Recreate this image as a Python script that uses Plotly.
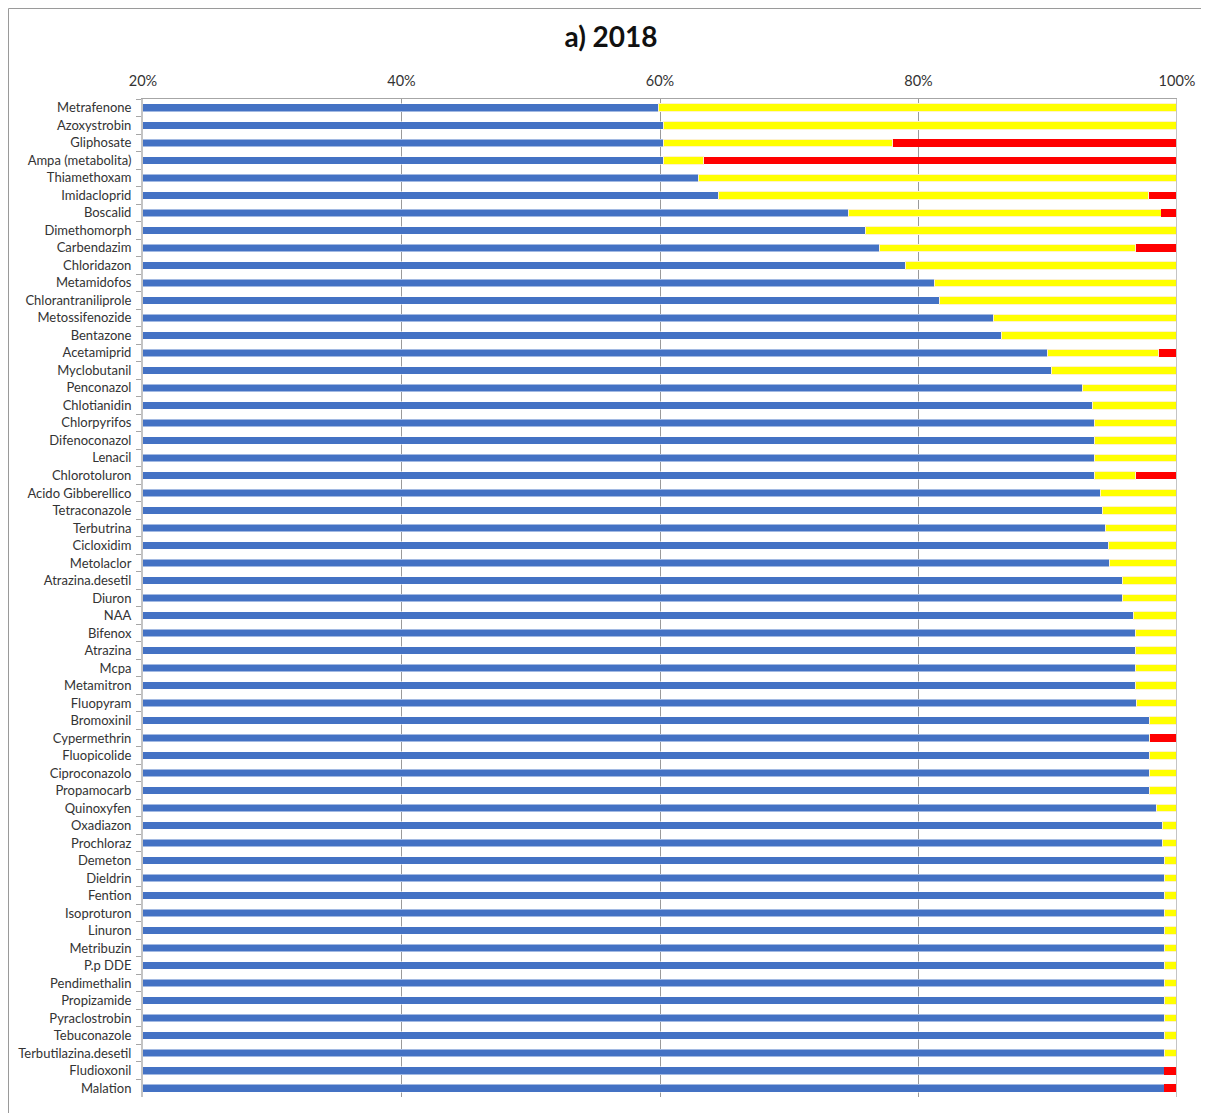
import plotly.graph_objects as go

# Pesticides, top to bottom
sostanze = [
    "Metrafenone", "Azoxystrobin", "Gliphosate", "Ampa (metabolita)", "Thiamethoxam",
    "Imidacloprid", "Boscalid", "Dimethomorph", "Carbendazim", "Chloridazon",
    "Metamidofos", "Chlorantraniliprole", "Metossifenozide", "Bentazone", "Acetamiprid",
    "Myclobutanil", "Penconazol", "Chlotianidin", "Chlorpyrifos", "Difenoconazol",
    "Lenacil", "Chlorotoluron", "Acido Gibberellico", "Tetraconazole", "Terbutrina",
    "Cicloxidim", "Metolaclor", "Atrazina.desetil", "Diuron", "NAA",
    "Bifenox", "Atrazina", "Mcpa", "Metamitron", "Fluopyram",
    "Bromoxinil", "Cypermethrin", "Fluopicolide", "Ciproconazolo", "Propamocarb",
    "Quinoxyfen", "Oxadiazon", "Prochloraz", "Demeton", "Dieldrin",
    "Fention", "Isoproturon", "Linuron", "Metribuzin", "P.p DDE",
    "Pendimethalin", "Propizamide", "Pyraclostrobin", "Tebuconazole", "Terbutilazina.desetil",
    "Fludioxonil", "Malation",
]

# percentage shares (blue / yellow / red)
blu = [
    59.9, 60.3, 60.3, 60.3, 63.0,
    64.5, 74.6, 75.9, 77.0, 79.0,
    81.2, 81.6, 85.8, 86.4, 90.0,
    90.3, 92.7, 93.5, 93.6, 93.6,
    93.6, 93.6, 94.1, 94.2, 94.5,
    94.7, 94.8, 95.8, 95.8, 96.6,
    96.8, 96.8, 96.8, 96.8, 96.9,
    97.9, 97.9, 97.9, 97.9, 97.9,
    98.4, 98.9, 98.9, 99.0, 99.0,
    99.0, 99.0, 99.0, 99.0, 99.0,
    99.0, 99.0, 99.0, 99.0, 99.0,
    99.0, 99.0,
]
giallo = [
    40.1, 39.7, 17.7, 3.1, 37.0,
    33.3, 24.2, 24.1, 19.8, 21.0,
    18.8, 18.4, 14.2, 13.6, 8.6,
    9.7, 7.3, 6.5, 6.4, 6.4,
    6.4, 3.2, 5.9, 5.8, 5.5,
    5.3, 5.2, 4.2, 4.2, 3.4,
    3.2, 3.2, 3.2, 3.2, 3.1,
    2.1, 0.0, 2.1, 2.1, 2.1,
    1.6, 1.1, 1.1, 1.0, 1.0,
    1.0, 1.0, 1.0, 1.0, 1.0,
    1.0, 1.0, 1.0, 1.0, 1.0,
    0.0, 0.0,
]
rosso = [
    0.0, 0.0, 22.0, 36.6, 0.0,
    2.2, 1.2, 0.0, 3.2, 0.0,
    0.0, 0.0, 0.0, 0.0, 1.4,
    0.0, 0.0, 0.0, 0.0, 0.0,
    0.0, 3.2, 0.0, 0.0, 0.0,
    0.0, 0.0, 0.0, 0.0, 0.0,
    0.0, 0.0, 0.0, 0.0, 0.0,
    0.0, 2.1, 0.0, 0.0, 0.0,
    0.0, 0.0, 0.0, 0.0, 0.0,
    0.0, 0.0, 0.0, 0.0, 0.0,
    0.0, 0.0, 0.0, 0.0, 0.0,
    1.0, 1.0,
]

tick_vals = [20, 40, 60, 80, 100]
tick_text = ["20%", "40%", "60%", "80%", "100%"]

fig = go.Figure()
fig.add_trace(go.Bar(y=sostanze, x=blu, orientation="h", name="blu",
                     marker=dict(color="#4472C4", line=dict(color="#ffffff", width=0.5))))
fig.add_trace(go.Bar(y=sostanze, x=giallo, orientation="h", name="giallo",
                     marker=dict(color="#FFFF00", line=dict(color="#FFF2CC", width=1))))
fig.add_trace(go.Bar(y=sostanze, x=rosso, orientation="h", name="rosso",
                     marker=dict(color="#FF0000", line=dict(color="#FF0000", width=0))))

# the page body adds an 8px offset, so margins are shifted by that amount
W, H = 1209, 1113
ml, mr, mt, mb = 135, 40, 91, 24
pw, ph = W - ml - mr, H - mt - mb

fig.update_layout(
    width=W, height=H,
    barmode="stack", bargap=0.57,
    showlegend=False,
    plot_bgcolor="white", paper_bgcolor="white",
    margin=dict(l=ml, r=mr, t=mt, b=mb, autoexpand=False),
    font=dict(family="Lato, Open Sans, sans-serif", color="#333333"),
    title=dict(text="<b>a) 2018</b>", x=(611 - 8) / W, xanchor="center",
               y=1 - 29 / H, yanchor="middle",
               font=dict(size=28, color="#111111")),
    xaxis=dict(range=[20, 100], side="top", tickvals=tick_vals, ticktext=tick_text,
               tickfont=dict(size=14.5, color="#333333"),
               showgrid=True, gridcolor="#9a9a9a", gridwidth=1,
               showline=True, linecolor="#a6a6a6", linewidth=1,
               ticks="", ticklabelstandoff=6, zeroline=False),
    yaxis=dict(autorange="reversed", type="category",
               tickfont=dict(size=13, color="#333333"),
               showline=True, linecolor="#c4c4c4", linewidth=2,
               ticks="outside", ticklen=5, tickcolor="#a6a6a6", tickson="boundaries",
               ticklabelstandoff=7),
    shapes=[
        dict(type="line", xref="x", yref="paper", x0=100, x1=100, y0=0, y1=1,
             line=dict(color="#c4c4c4", width=2)),
        dict(type="rect", xref="paper", yref="paper",
             x0=(0.5 - ml) / pw, x1=(W - 10 - ml) / pw,
             y0=-(mb + 20) / ph, y1=(H - mb - 0.5) / ph,
             line=dict(color="#9a9a9a", width=1), layer="below"),
    ],
)

fig.write_html("out.html")
